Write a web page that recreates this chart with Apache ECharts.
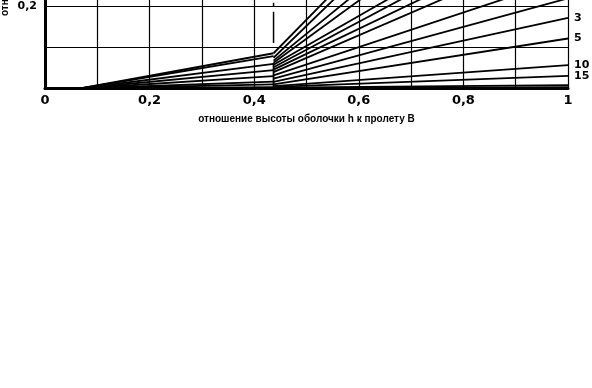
<!DOCTYPE html>
<html>
<head>
<meta charset="utf-8">
<script src="https://cdn.jsdelivr.net/npm/echarts@6/dist/echarts.min.js"></script>
<style>html,body{margin:0;padding:0;background:#fff}#c{width:592px;height:388px}</style>
</head>
<body>
<div id="c"></div>
<script>
// x positions of the piecewise curves
const xStart = 0.067;
const xKink = 0.437;
const xEnd = 1;
// left pieces: from (xStart, 0) to (xKink, value)
const leftEndValues = [0.086, 0.079, 0.060, 0.045, 0.030, 0.017, 0.010, 0.003];
// right pieces: from (xKink, start) to (xEnd, end)
const rightStartValues = [0.086, 0.075, 0.068, 0.063, 0.058, 0.052, 0.046, 0.040, 0.032, 0.024, 0.016, 0.010, 0.006, 0.004, 0.002, 0.000];
const rightEndValues   = [0.818, 0.770, 0.654, 0.586, 0.469, 0.434, 0.390, 0.350, 0.270, 0.220, 0.172, 0.122, 0.057, 0.031, 0.008, 0.003];
const rightLabels      = ['', '', '', '', '', '', '', '', '', '', '3', '5', '10', '15', '', ''];
// vertical marker at the kink
const markerDashed = [0.209, 0.111];
const markerSolid = [0.062, 0];
// axis tick labels
const xTickLabels = {'0': '0', '0.2': '0,2', '0.4': '0,4', '0.6': '0,6', '0.8': '0,8', '1': '1'};
const yTickLabels = {'0.2': '0,2'};
const yVisibleMax = 0.2159;
const xTitle = 'отношение высоты оболочки h к пролету B';
const yTitle = 'отношение';

const lineStyle = {color: '#000', width: 1.8};
const series = [];
leftEndValues.forEach(v => {
  series.push({type: 'line', data: [[xStart, 0], [xKink, v]], symbol: 'none', lineStyle, silent: true});
});
rightStartValues.forEach((s, i) => {
  const lab = rightLabels[i];
  series.push({
    type: 'line', data: [[xKink, s], [xEnd, rightEndValues[i]]], symbol: 'none', lineStyle, silent: true,
    endLabel: {show: !!lab, formatter: lab, color: '#000', fontSize: 11, fontWeight: 'bold', fontFamily: 'DejaVu Sans', distance: 6}
  });
});
series.push({type: 'line', data: markerDashed.map(v => [xKink, v]), symbol: 'none', silent: true,
  lineStyle: {color: '#000', width: 1.5, type: [4, 5, 80, 5]}});
series.push({type: 'line', data: markerSolid.map(v => [xKink, v]), symbol: 'none', silent: true,
  lineStyle: {color: '#000', width: 1.8}});

const fmt = (map) => (v) => {
  const k = String(parseFloat(v.toFixed(6)));
  return map[k] !== undefined ? map[k] : '';
};

const chart = echarts.init(document.getElementById('c'), null, {renderer: 'canvas'});
chart.setOption({
  animation: false,
  backgroundColor: '#fff',
  grid: {left: 45, right: 24, top: 0, bottom: 299.5, containLabel: false},
  xAxis: {
    type: 'value', min: 0, max: 1, interval: 0.1,
    axisLine: {lineStyle: {color: '#000', width: 3}},
    axisTick: {show: false},
    splitLine: {show: true, lineStyle: {color: '#000', width: 1.2}},
    axisLabel: {formatter: fmt(xTickLabels), color: '#000', fontSize: 13, fontWeight: 'bold', fontFamily: 'DejaVu Sans', margin: 6},
    name: xTitle, nameLocation: 'middle', nameGap: 26,
    nameTextStyle: {color: '#000', fontSize: 10, fontFamily: 'Liberation Sans', fontWeight: 'bold'}
  },
  yAxis: {
    type: 'value', min: 0, max: yVisibleMax, interval: 0.1,
    axisLine: {show: true, lineStyle: {color: '#000', width: 3}},
    axisTick: {show: false},
    splitLine: {show: true, showMaxLine: false, lineStyle: {color: '#000', width: 1.2}},
    axisLabel: {formatter: fmt(yTickLabels), showMaxLabel: false, color: '#000', fontSize: 11, fontWeight: 'bold', fontFamily: 'DejaVu Sans', margin: 8}
  },
  graphic: [{
    type: 'text', x: 10, y: 16, rotation: Math.PI / 2,
    style: {text: yTitle, fill: '#000', font: 'bold 10px "Liberation Sans"', textAlign: 'left', textVerticalAlign: 'bottom'}
  }],
  series
});
</script>
</body>
</html>
